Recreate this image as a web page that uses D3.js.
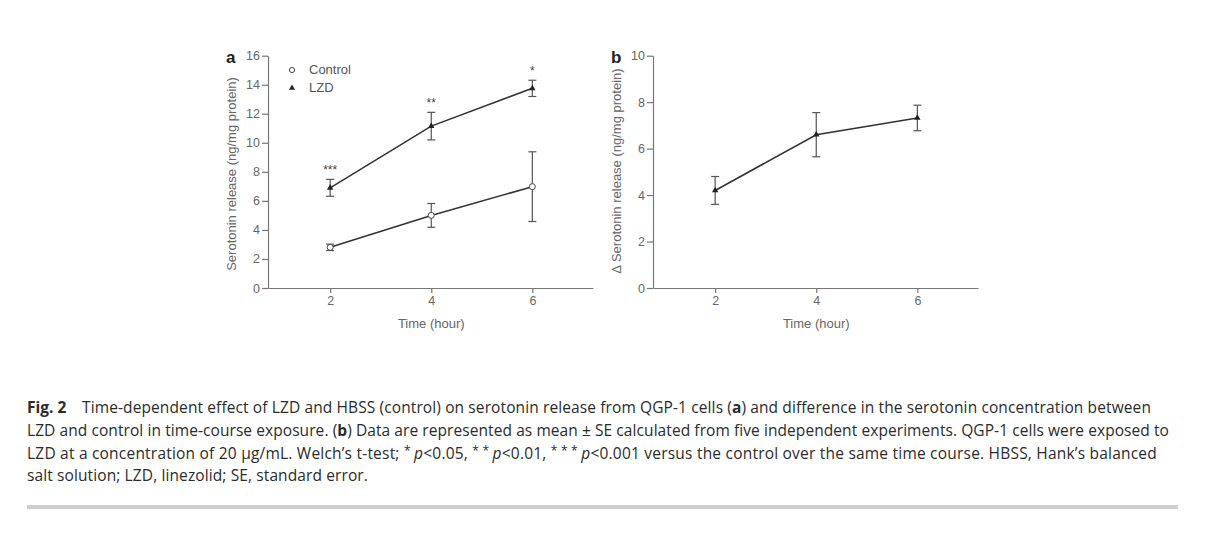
<!DOCTYPE html>
<html><head><meta charset="utf-8">
<script src="https://cdn.jsdelivr.net/npm/d3@7"></script>
<style>
body{margin:0;background:#fff;}
svg{display:block;}
.lib{font-family:"Liberation Sans",Arial,sans-serif;}
.cap text{font-family:"Open Sans","Noto Sans",sans-serif;}
</style></head>
<body>
<svg id="chart" width="1212" height="539"></svg>
<script>
// ---- data ----
const times = [2, 4, 6];
const xTicks = [2, 4, 6];
const yTicksA = [0, 2, 4, 6, 8, 10, 12, 14, 16];
const yTicksB = [0, 2, 4, 6, 8, 10];
const controlMean = [2.8, 5.0, 6.98];
const controlSE   = [0.22, 0.82, 2.4];
const lzdMean = [6.9, 11.15, 13.75];
const lzdSE   = [0.58, 0.95, 0.56];
const sigLabels = ["***", "**", "*"];
const deltaMean = [4.2, 6.6, 7.32];
const deltaSE   = [0.6, 0.95, 0.55];
const captionLines = [
  "Time-dependent effect of LZD and HBSS (control) on serotonin release from QGP-1 cells (a) and difference in the serotonin concentration between",
  "LZD and control in time-course exposure. (b) Data are represented as mean ± SE calculated from five independent experiments. QGP-1 cells were exposed to",
  "LZD at a concentration of 20 µg/mL. Welch’s t-test; *p<0.05, **p<0.01, ***p<0.001 versus the control over the same time course. HBSS, Hank’s balanced",
  "salt solution; LZD, linezolid; SE, standard error."
];

const svg = d3.select("#chart");
const axisCol = "#777", lineCol = "#333", labCol = "#666";

function panel(opts){
  const g = svg.append("g").attr("class","lib");
  const x = d3.scaleLinear().domain([0.77, 7.2]).range([opts.x0, opts.x0 + 325]);
  const y = d3.scaleLinear().domain([0, opts.ymax]).range([288, 55.7]);
  const xa = g.append("g").attr("transform","translate(0,288)")
    .call(d3.axisBottom(x).tickValues(xTicks).tickFormat(d3.format("d")).tickSize(5).tickPadding(3).tickSizeOuter(0));
  const ya = g.append("g").attr("transform",`translate(${opts.x0},0)`)
    .call(d3.axisLeft(y).tickValues(opts.yTicks).tickFormat(d3.format("d")).tickSize(6).tickPadding(2).tickSizeOuter(0));
  [xa, ya].forEach(a=>{
    a.attr("font-family", null).attr("font-size", null);
    a.selectAll("path,line").attr("stroke", axisCol).attr("stroke-width", 1.2);
    a.selectAll("text").attr("fill", labCol).style("font-size","12.5px");
  });
  g.append("text").attr("x", x(4)).attr("y", 328).attr("text-anchor","middle")
    .attr("fill", labCol).style("font-size","13px").text("Time (hour)");
  g.append("text").attr("transform",`translate(${opts.x0-32},${opts.ycap}) rotate(-90)`)
    .attr("text-anchor","middle").attr("fill", labCol).style("font-size","13px").text(opts.ytitle);
  g.append("text").attr("x", opts.x0 - 42).attr("y", 63).attr("fill","#222")
    .style("font-size","17px").style("font-weight","bold").text(opts.letter);
  return {g, x, y};
}

function series(p, means, ses, kind){
  const pts = times.map((t,i)=>({t, m:means[i], s:ses[i]}));
  p.g.append("path").datum(pts).attr("fill","none").attr("stroke", lineCol).attr("stroke-width",1.6)
    .attr("d", d3.line().x(d=>p.x(d.t)).y(d=>p.y(d.m)));
  const eb = p.g.append("g").attr("stroke","#555").attr("stroke-width",1.2);
  pts.forEach(d=>{
    const cx = p.x(d.t), yt = p.y(d.m + d.s), yb = p.y(d.m - d.s);
    eb.append("line").attr("x1",cx).attr("x2",cx).attr("y1",yt).attr("y2",yb);
    eb.append("line").attr("x1",cx-4).attr("x2",cx+4).attr("y1",yt).attr("y2",yt);
    eb.append("line").attr("x1",cx-4).attr("x2",cx+4).attr("y1",yb).attr("y2",yb);
  });
  pts.forEach(d=>{
    if(kind==="circle"){
      p.g.append("circle").attr("cx",p.x(d.t)).attr("cy",p.y(d.m)).attr("r",3)
        .attr("fill","#fff").attr("stroke","#444").attr("stroke-width",1);
    } else {
      p.g.append("path").attr("transform",`translate(${p.x(d.t)},${p.y(d.m)})`)
        .attr("d", d3.symbol(d3.symbolTriangle, 18)()).attr("fill","#222");
    }
  });
  return pts;
}

// Panel a
const pa = panel({x0:268, ymax:16, yTicks:yTicksA, ytitle:"Serotonin release (ng/mg protein)", ycap:174, letter:"a"});
series(pa, controlMean, controlSE, "circle");
const lz = series(pa, lzdMean, lzdSE, "tri");
lz.forEach((d,i)=>{
  pa.g.append("text").attr("x", pa.x(d.t)).attr("y", pa.y(d.m + d.s) - 5).attr("text-anchor","middle")
    .attr("fill","#444").style("font-size","12px").text(sigLabels[i]);
});
// legend
pa.g.append("circle").attr("cx",292).attr("cy",70).attr("r",2.6).attr("fill","#fff").attr("stroke","#444");
pa.g.append("path").attr("transform","translate(292,88)").attr("d", d3.symbol(d3.symbolTriangle,16)()).attr("fill","#222");
pa.g.append("text").attr("x",309).attr("y",74).attr("fill","#555").style("font-size","13px").text("Control");
pa.g.append("text").attr("x",309).attr("y",92).attr("fill","#555").style("font-size","13px").text("LZD");

// Panel b
const pb = panel({x0:653, ymax:10, yTicks:yTicksB, ytitle:"Δ Serotonin release (ng/mg protein)", ycap:171, letter:"b"});
series(pb, deltaMean, deltaSE, "tri");

// Caption
const cap = svg.append("g").attr("class","cap").attr("fill","#2b2b2b");
cap.append("text").attr("x",27).attr("y",413)
  .style("font-size","15.5px").style("font-weight","bold").text("Fig. 2");
const lineSpec = [
  {x:82, y:413, end:1151},
  {x:27, y:436, end:1169},
  {x:27, y:459, end:1157},
  {x:27, y:481, end:368}
];
function segments(str){
  const parts = str.split(/\((a|b)\)|(\*+)p/);
  const segs = [];
  for(let i=0;i<parts.length;i+=3){
    if(parts[i]) segs.push({t:parts[i]});
    if(i+1<parts.length){
      if(parts[i+1]){ segs.push({t:"("}); segs.push({t:parts[i+1], bold:true}); segs.push({t:")"}); }
      else if(parts[i+2]){ segs.push({t:parts[i+2].split("").join(" ")+" ", sup:true}); segs.push({t:"p", italic:true}); }
    }
  }
  const out = [];
  segs.forEach(s=>{
    const last = out[out.length-1];
    if(last && !last.bold && !last.sup && !last.italic && !s.bold && !s.sup && !s.italic) last.t += s.t;
    else out.push(Object.assign({}, s));
  });
  return out;
}
captionLines.forEach((s,i)=>{
  const L = lineSpec[i];
  const t = cap.append("text").attr("x",L.x).attr("y",L.y).style("font-size","15.5px");
  segments(s).forEach(seg=>{
    const ts = t.append("tspan").text(seg.t);
    if(seg.bold) ts.style("font-weight","bold");
    if(seg.italic) ts.style("font-style","italic").attr("dy",4);
    if(seg.sup) ts.style("font-size","12px").attr("dy",-4);
  });
  const natural = t.node().getComputedTextLength();
  const n = t.text().length;
  t.style("letter-spacing", ((L.end - L.x - natural) / n) + "px");
});
svg.append("rect").attr("x",27).attr("y",505).attr("width",1151).attr("height",4).attr("fill","#cfcfcf");
</script>
</body></html>
